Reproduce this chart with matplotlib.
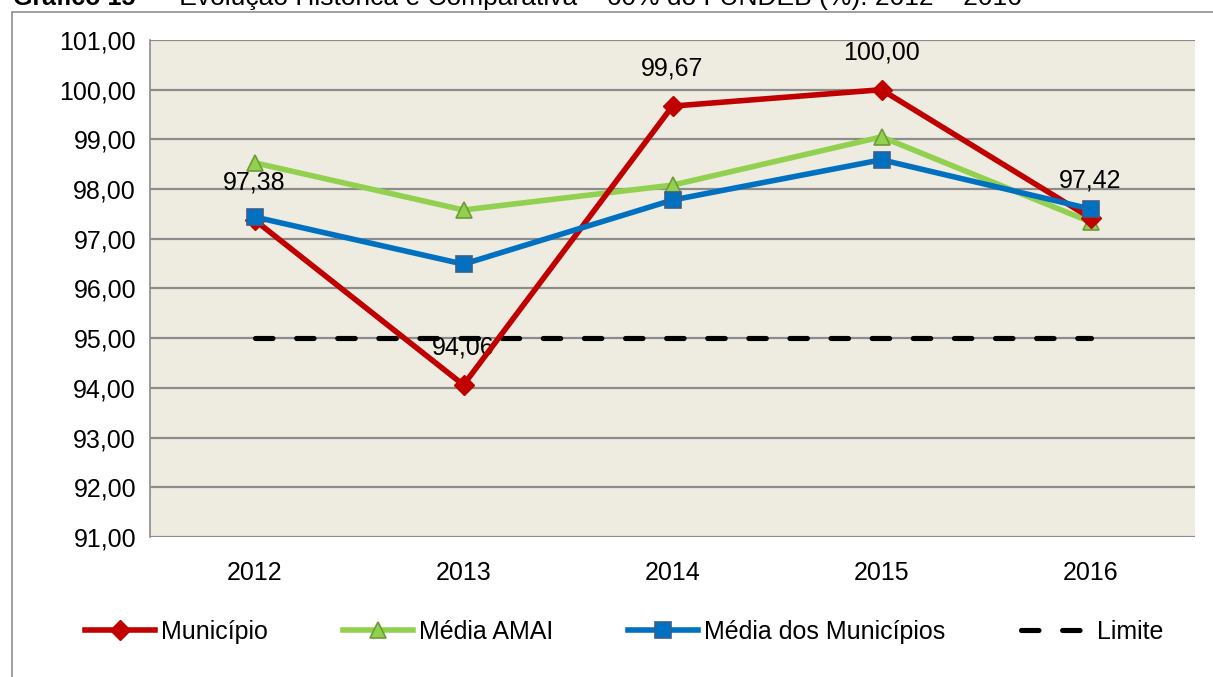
import matplotlib.pyplot as plt
import matplotlib.patches as mpatches
from matplotlib.ticker import FuncFormatter
import numpy as np

plt.rcParams['font.family'] = ['Liberation Sans', 'DejaVu Sans']

years = ['2012', '2013', '2014', '2015', '2016']
municipio = [97.38, 94.06, 99.67, 100.00, 97.42]
media_amai = [98.53, 97.58, 98.08, 99.05, 97.34]
media_municipios = [97.44, 96.49, 97.78, 98.59, 97.60]
limite = [95.0, 95.0, 95.0, 95.0, 95.0]

x = np.arange(len(years)) + 0.5
W, H = 1213, 677

fig = plt.figure(figsize=(W / 100, H / 100), dpi=100)
ax = fig.add_axes([150 / W, 1 - 537 / H, 1045 / W, 497 / H])

# outer frame (only top and left edges show) and the cut-off title above it
fig.patches.append(mpatches.Rectangle((12 / W, -0.1), 1.2, 1.1 - 12 / H, transform=fig.transFigure,
                                      fill=False, edgecolor='#8f8f8f', linewidth=1.2))
t1 = fig.text(13 / W, 1 - 5 / H, 'Gráfico 15', fontsize=18, fontweight='bold',
              va='baseline', ha='left')
renderer = fig.canvas.get_renderer()
bb = t1.get_window_extent(renderer)
fig.text(bb.x1 / W, 1 - 5 / H, '  –  Evolução Histórica e Comparativa – 60% do FUNDEB (%): 2012 – 2016',
         fontsize=19, va='baseline', ha='left')

ax.set_facecolor('#EEEBE0')
ax.set_xlim(0, 5)
ax.set_ylim(91, 101)
ax.set_yticks(np.arange(91, 102, 1))
ax.yaxis.set_major_formatter(FuncFormatter(lambda v, p: f'{v:.2f}'.replace('.', ',')))
ax.grid(axis='y', color='#8c8c8c', linewidth=1.6)
ax.set_axisbelow(True)
for s in ['top', 'right', 'bottom']:
    ax.spines[s].set_visible(False)
ax.spines['left'].set_color('#8c8c8c')
ax.spines['left'].set_linewidth(1.2)
ax.set_xticks(x)
ax.set_xticklabels(years)
ax.tick_params(axis='both', labelsize=18, length=0)
ax.tick_params(axis='x', pad=17)
ax.tick_params(axis='y', pad=10)

ax.plot(x, limite, color='black', linestyle=(0, (3.4, 4.6)), linewidth=3.7, label='Limite', zorder=2,
        dash_capstyle='round')
ax.plot(x, media_amai, color='#92D050', linewidth=4, marker='^', markersize=12,
        markerfacecolor='#92D050', markeredgecolor='#6E9A37', markeredgewidth=1.2,
        label='Média AMAI', zorder=3)
ax.plot(x, media_municipios, color='#0070C0', linewidth=4, marker='s', markersize=11,
        markerfacecolor='#0070C0', markeredgecolor='#3A5F8C', markeredgewidth=1.2,
        label='Média dos Municípios', zorder=4)
ax.plot(x, municipio, color='#C00000', linewidth=4, marker='D', markersize=10.5,
        markerfacecolor='#C00000', markeredgecolor='#C00000',
        label='Município', zorder=3.5)

for xi, v in zip(x, municipio):
    ax.annotate(f'{v:.2f}'.replace('.', ','), (xi, v), xytext=(0, 27), textcoords='offset points',
                ha='center', va='center', fontsize=18)

handles, labels = ax.get_legend_handles_labels()
order = [3, 1, 2, 0]
fig.legend([handles[i] for i in order], [labels[i] for i in order], loc='center',
           bbox_to_anchor=(624 / W, 1 - 632 / H), ncol=4, frameon=False, fontsize=18,
           handlelength=2.8, handletextpad=0.25, columnspacing=3.0)

fig.savefig('out.png', dpi=100)
